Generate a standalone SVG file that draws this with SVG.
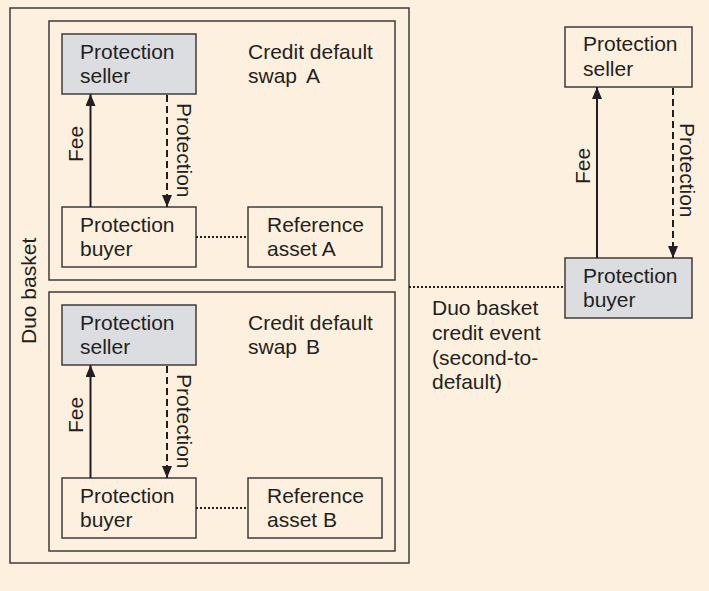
<svg xmlns="http://www.w3.org/2000/svg" width="709" height="591" viewBox="0 0 709 591">
  <style>
    text { font-family: "Liberation Sans", Arial, sans-serif; font-size: 21px; fill: #231f20; }
    .frame { fill: none; stroke: #3c3c3c; stroke-width: 1.5; }
    .box { fill: #fdf0de; stroke: #3c3c3c; stroke-width: 1.5; }
    .shaded { fill: #dcdde1; stroke: #3c3c3c; stroke-width: 1.5; }
    .fee { stroke: #231f20; stroke-width: 2; fill: none; }
    .prot { stroke: #231f20; stroke-width: 2; fill: none; stroke-dasharray: 7 4; }
    .link { stroke: #231f20; stroke-width: 2; fill: none; stroke-dasharray: 2 2; }
  </style>
  <defs>
    <marker id="head" viewBox="0 0 12 10" refX="12" refY="5" markerWidth="12" markerHeight="10" markerUnits="userSpaceOnUse" orient="auto">
      <path d="M0,0 L12,5 L0,10 z" fill="#231f20"/>
    </marker>
  </defs>

  <rect width="709" height="591" fill="#fdf0de"/>

  <!-- basket frame and the two swap panels -->
  <g id="duo-basket">
    <rect class="frame" x="10" y="8" width="399" height="555"/>
    <text transform="translate(36,344) rotate(-90)">Duo basket</text>
  </g>
  <g id="swap-a">
    <rect class="frame" x="49" y="21" width="346" height="259"/>
    <text x="248" y="59">Credit default</text>
    <text x="248" y="83">swap<tspan x="306">A</tspan></text>
  </g>
  <g id="swap-b">
    <rect class="frame" x="49" y="292" width="346" height="259"/>
    <text x="248" y="330">Credit default</text>
    <text x="248" y="354">swap<tspan x="306">B</tspan></text>
  </g>

  <!-- swap A parties -->
  <g id="seller-a">
    <rect class="shaded" x="62" y="34" width="134" height="60"/>
    <text x="80" y="59">Protection</text>
    <text x="80" y="83">seller</text>
  </g>
  <g id="buyer-a">
    <rect class="box" x="62" y="207" width="134" height="60"/>
    <text x="80" y="232">Protection</text>
    <text x="80" y="256">buyer</text>
  </g>
  <g id="ref-a">
    <rect class="box" x="248" y="207" width="134" height="60"/>
    <text x="267" y="232">Reference</text>
    <text x="267" y="256">asset A</text>
  </g>

  <!-- swap B parties -->
  <g id="seller-b">
    <rect class="shaded" x="62" y="305" width="134" height="60"/>
    <text x="80" y="330">Protection</text>
    <text x="80" y="354">seller</text>
  </g>
  <g id="buyer-b">
    <rect class="box" x="62" y="478" width="134" height="60"/>
    <text x="80" y="503">Protection</text>
    <text x="80" y="527">buyer</text>
  </g>
  <g id="ref-b">
    <rect class="box" x="248" y="478" width="134" height="60"/>
    <text x="267" y="503">Reference</text>
    <text x="267" y="527">asset B</text>
  </g>

  <!-- duo basket parties -->
  <g id="seller-duo">
    <rect class="box" x="565" y="27" width="127" height="60"/>
    <text x="583" y="51">Protection</text>
    <text x="583" y="76">seller</text>
  </g>
  <g id="buyer-duo">
    <rect class="shaded" x="565" y="258" width="127" height="60"/>
    <text x="583" y="283">Protection</text>
    <text x="583" y="307">buyer</text>
  </g>
  <g id="credit-event">
    <text x="432" y="315">Duo basket</text>
    <text x="432" y="340">credit event</text>
    <text x="432" y="365">(second-to-</text>
    <text x="432" y="389">default)</text>
  </g>

  <!-- connectors -->
  <g id="connectors">
    <line class="fee" x1="90.5" y1="207" x2="90.5" y2="94" marker-end="url(#head)"/>
    <line class="prot" x1="167" y1="95" x2="167" y2="207" marker-end="url(#head)"/>
    <line class="link" x1="196" y1="237" x2="248" y2="237"/>

    <line class="fee" x1="90.5" y1="478" x2="90.5" y2="365" marker-end="url(#head)"/>
    <line class="prot" x1="167" y1="366" x2="167" y2="478" marker-end="url(#head)"/>
    <line class="link" x1="196" y1="508" x2="248" y2="508"/>

    <line class="fee" x1="597" y1="258" x2="597" y2="87" marker-end="url(#head)"/>
    <line class="prot" x1="673" y1="88" x2="673" y2="258" marker-end="url(#head)"/>
    <line class="link" x1="409" y1="287" x2="565" y2="287"/>

    <text transform="translate(83,162) rotate(-90)">Fee</text>
    <text transform="translate(177,103) rotate(90)">Protection</text>
    <text transform="translate(83,433) rotate(-90)">Fee</text>
    <text transform="translate(177,374) rotate(90)">Protection</text>
    <text transform="translate(590,184) rotate(-90)">Fee</text>
    <text transform="translate(680,123) rotate(90)">Protection</text>
  </g>
</svg>
